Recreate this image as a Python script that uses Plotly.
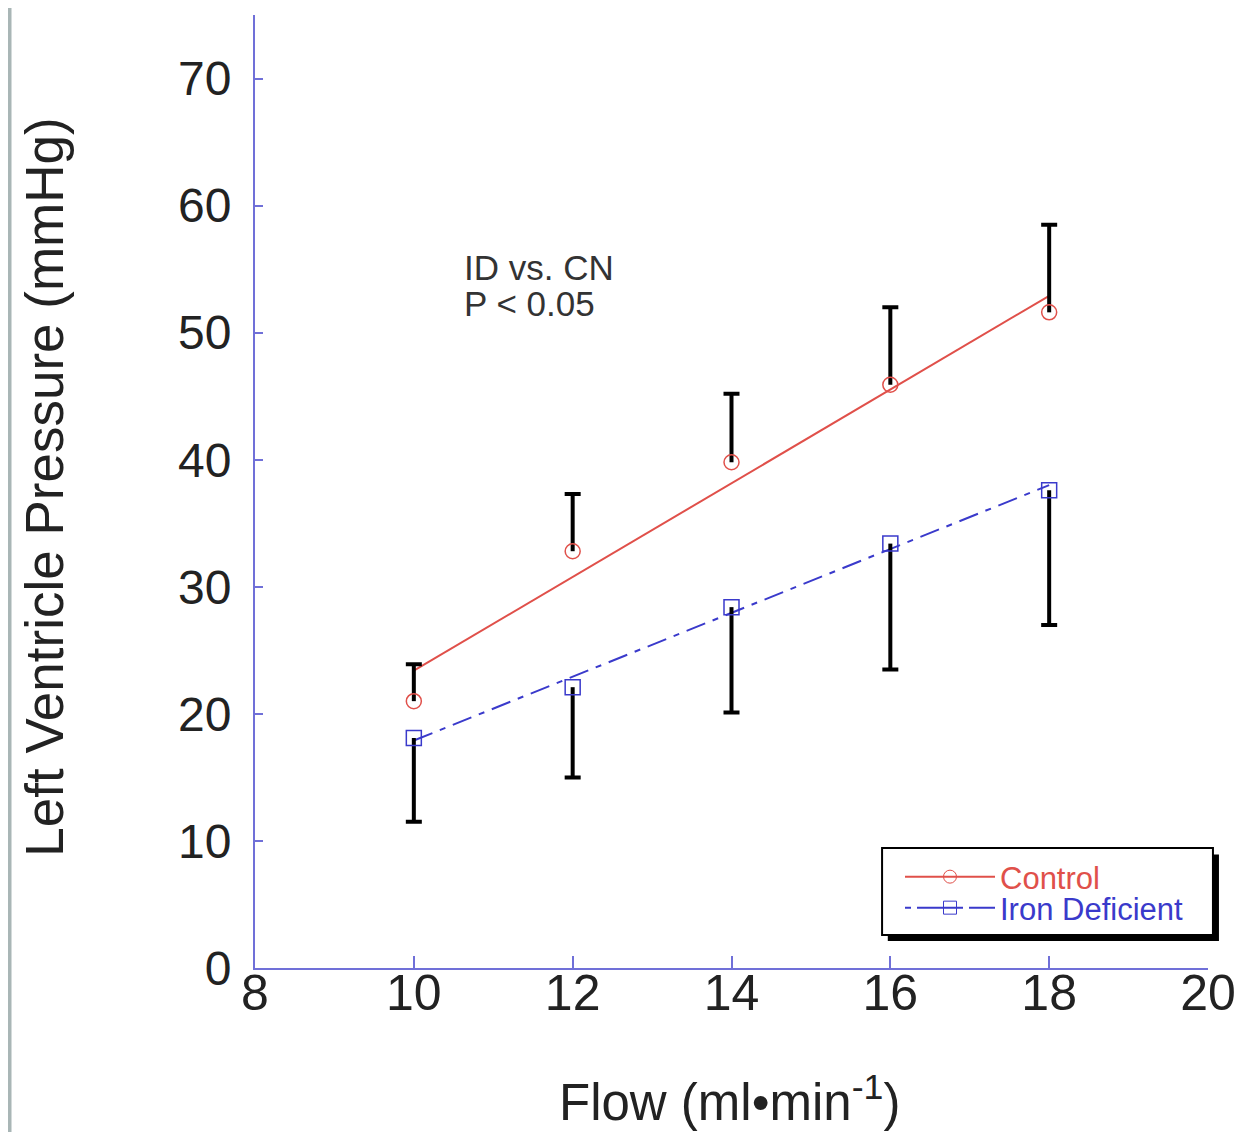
import plotly.graph_objects as go

# Flow (ml/min)
flow = [10, 12, 14, 16, 18]

# Control group: mean LV pressure and upper SD
control_mean = [21.0, 32.8, 39.8, 45.9, 51.6]
control_err = [2.9, 4.5, 5.4, 6.1, 6.9]

# Iron deficient group: mean LV pressure and lower SD
iron_mean = [18.1, 22.1, 28.4, 33.4, 37.6]
iron_err = [6.6, 7.1, 8.3, 9.9, 10.6]

# regression lines as drawn (endpoints)
fit_x = [10, 18]
control_fit = [23.4, 52.9]
iron_fit = [17.9, 38.0]

RED = '#e0504a'
BLUE = '#3a3acb'
AXIS = '#7070d8'
FONT = 'Liberation Sans, Arial, sans-serif'
ID_DASH = '20px,8px,6px,8px'

control_top = [m + e for m, e in zip(control_mean, control_err)]
iron_bottom = [m - e for m, e in zip(iron_mean, iron_err)]

fig = go.Figure()

# Fit lines
fig.add_trace(go.Scatter(x=fit_x, y=control_fit, mode='lines',
                         line=dict(color=RED, width=2), showlegend=False))
fig.add_trace(go.Scatter(x=fit_x, y=iron_fit, mode='lines',
                         line=dict(color=BLUE, width=2, dash=ID_DASH),
                         showlegend=False))

# Points with one-sided error bars (no cap at the point end)
fig.add_trace(go.Scatter(x=flow, y=control_mean, mode='markers',
                         marker=dict(symbol='circle-open', size=15, color=RED,
                                     line=dict(width=1.5)),
                         error_y=dict(type='data', symmetric=False,
                                      array=control_err, arrayminus=[0] * 5,
                                      color='black', thickness=4, width=0),
                         showlegend=False))
fig.add_trace(go.Scatter(x=flow, y=iron_mean, mode='markers',
                         marker=dict(symbol='square-open', size=15, color=BLUE,
                                     line=dict(width=1.5)),
                         error_y=dict(type='data', symmetric=False,
                                      array=[0] * 5, arrayminus=iron_err,
                                      color='black', thickness=4, width=0),
                         showlegend=False))
# caps at the outer ends
for ends in (control_top, iron_bottom):
    fig.add_trace(go.Scatter(x=flow, y=ends, mode='markers',
                             marker=dict(size=1, opacity=0),
                             error_y=dict(type='data', array=[0] * 5,
                                          color='black', thickness=4, width=8),
                             showlegend=False, hoverinfo='skip'))

# Legend-only entries, one legend each so the rows can sit close together
fig.add_trace(go.Scatter(x=[None], y=[None], mode='lines+markers',
                         name=f'<span style="color:{RED}">Control</span>',
                         line=dict(color=RED, width=2),
                         marker=dict(symbol='circle-open', size=13, color=RED),
                         legend='legend'))
fig.add_trace(go.Scatter(x=[None], y=[None], mode='lines+markers',
                         name=f'<span style="color:{BLUE}">Iron Deficient</span>',
                         line=dict(color=BLUE, width=2, dash='6px,6px,40px,0px'),
                         marker=dict(symbol='square-open', size=13, color=BLUE),
                         legend='legend2'))

fig.update_xaxes(range=[8, 20], tickvals=[8, 10, 12, 14, 16, 18, 20],
                 showline=True, linecolor=AXIS, linewidth=2,
                 ticks='inside', ticklen=12, tickwidth=2, tickcolor=AXIS,
                 showgrid=False, zeroline=False, ticklabelstandoff=-20,
                 tickfont=dict(family=FONT, size=50, color='#222222'))
fig.update_yaxes(range=[0, 75], tickvals=[0, 10, 20, 30, 40, 50, 60, 70],
                 showline=True, linecolor=AXIS, linewidth=2,
                 ticks='inside', ticklen=8, tickwidth=2, tickcolor=AXIS,
                 showgrid=False, zeroline=False, ticklabelstandoff=12,
                 tickfont=dict(family=FONT, size=48, color='#222222'))

leg = dict(xanchor='left', yanchor='top', bgcolor='rgba(0,0,0,0)',
           borderwidth=0, font=dict(size=31), itemwidth=90)

fig.update_layout(
    width=1252, height=1124,
    margin=dict(l=247, r=52, t=7, b=164),
    paper_bgcolor='white', plot_bgcolor='white',
    font=dict(family=FONT, color='#222222'),
    legend=dict(leg, x=(900 - 255) / 953, y=(968 - 850) / 953),
    legend2=dict(leg, x=(900 - 255) / 953, y=(968 - 881) / 953),
    shapes=[
        # gray strip on the left edge
        dict(type='rect', xref='paper', yref='paper',
             x0=-0.2592, x1=-0.2555, y0=-0.18, y1=1.02,
             fillcolor='#a9b6b6', line=dict(width=0), layer='below'),
        # legend drop shadow
        dict(type='rect', xref='paper', yref='paper',
             x0=0.664, x1=1.0115, y0=0.0283, y1=0.119,
             fillcolor='black', line=dict(width=0), layer='above'),
        # legend frame
        dict(type='rect', xref='paper', yref='paper',
             x0=0.658, x1=1.0052, y0=0.0346, y1=0.1259,
             fillcolor='white', line=dict(color='black', width=2), layer='above'),
    ],
    annotations=[
        dict(text='ID vs. CN', xref='x', yref='y', x=10.61, y=55.1,
             xanchor='left', yanchor='middle', showarrow=False,
             font=dict(size=35, color='#333333')),
        dict(text='P < 0.05', xref='x', yref='y', x=10.61, y=52.3,
             xanchor='left', yanchor='middle', showarrow=False,
             font=dict(size=35, color='#333333')),
        dict(text='Left Ventricle Pressure (mmHg)', xref='paper', yref='paper',
             x=-0.2204, y=0.505, xanchor='center', yanchor='middle',
             textangle=-90, showarrow=False,
             font=dict(size=53, color='#222222')),
        dict(text='Flow (ml\u2022min<sup>-1</sup>)', xref='paper', yref='paper',
             x=0.498, y=-0.1375, xanchor='center', yanchor='middle', showarrow=False,
             font=dict(size=51, color='#222222')),
    ],
)

fig.write_html('out.html')
